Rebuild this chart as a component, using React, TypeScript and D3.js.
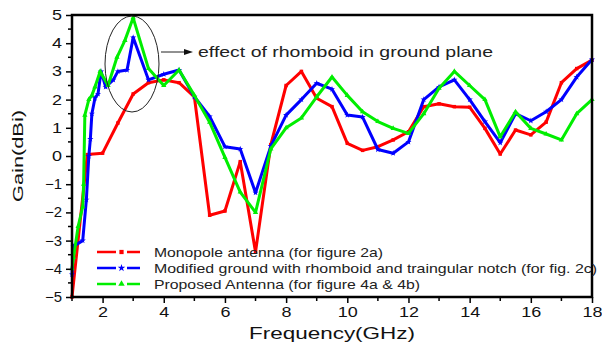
import React, { useEffect, useRef } from 'react';
import * as d3 from 'd3';

// Monopole antenna (for figure 2a)
const monoFreq = [1, 1.5, 2, 2.5, 3, 3.5, 4, 4.5, 5, 5.5, 6, 6.5, 7, 7.5, 8, 8.5, 9, 9.5, 10, 10.5, 11, 11.5, 12, 12.5, 13, 13.5, 14, 14.5, 15, 15.5, 16, 16.5, 17, 17.5, 18];
const monoGain = [-5, 0.05, 0.1, 1.17, 2.2, 2.6, 2.7, 2.6, 2.1, -2.1, -1.95, -0.2, -3.4, 0.4, 2.5, 3.0, 2.05, 1.75, 0.45, 0.2, 0.33, 0.57, 0.86, 1.75, 1.85, 1.75, 1.73, 0.98, 0.07, 0.92, 0.75, 1.2, 2.6, 3.1, 3.4];

// Modified ground with rhomboid and notch (for fig. 2c)
const modFreq = [1, 1.05, 1.35, 1.47, 1.55, 1.6, 1.65, 1.75, 1.85, 1.95, 2.1, 2.35, 2.5, 2.8, 3, 3.5, 4, 4.5, 5, 5.5, 6, 6.5, 7, 7.5, 8, 8.5, 9, 9.5, 10, 10.5, 11, 11.5, 12, 12.5, 13, 13.5, 14, 14.5, 15, 15.5, 16, 16.5, 17, 17.5, 18];
const modGain = [-4.2, -3.2, -3.0, -1.55, 0.0, 0.6, 1.5, 2.05, 2.2, 3.0, 2.45, 2.7, 3.0, 3.05, 4.2, 2.7, 2.9, 3.05, 2.1, 1.4, 0.33, 0.25, -1.3, 0.35, 1.45, 2.0, 2.58, 2.37, 1.45, 1.38, 0.23, 0.1, 0.5, 2.0, 2.45, 2.7, 2.0, 1.22, 0.47, 1.5, 1.25, 1.57, 2.0, 2.8, 3.42];

// Proposed Antenna (for figure 4a & 4b)
const propFreq = [1, 1.05, 1.2, 1.35, 1.38, 1.42, 1.55, 1.65, 1.75, 1.92, 2.18, 2.47, 2.73, 3, 3.5, 4, 4.5, 5, 5.5, 6, 6.5, 7, 7.5, 8, 8.5, 9, 9.5, 10, 10.5, 11, 11.5, 12, 12.5, 13, 13.5, 14, 14.5, 15, 15.5, 16, 16.5, 17, 17.5, 18];
const propGain = [-4.0, -3.6, -2.5, -1.8, -1.0, 1.45, 2.0, 2.15, 2.45, 3.0, 2.5, 3.5, 4.1, 4.9, 3.1, 2.5, 3.05, 2.15, 1.2, -0.05, -1.28, -2.0, 0.25, 1.0, 1.35, 2.1, 2.8, 2.15, 1.57, 1.22, 0.98, 0.8, 1.5, 2.4, 3.0, 2.5, 2.0, 0.68, 1.57, 0.98, 0.78, 0.57, 1.5, 2.0];

const xTicks = [2, 4, 6, 8, 10, 12, 14, 16, 18];
const yTicks = [-5, -4, -3, -2, -1, 0, 1, 2, 3, 4, 5];

const seriesNames = [
  'Monopole antenna (for figure 2a)',
  'Modified ground with rhomboid and traingular notch (for fig. 2c)',
  'Proposed Antenna (for figure 4a & 4b)'
];
const seriesColors = ['#ff0000', '#0000ff', '#00ee00'];
const annotation = 'effect of rhomboid in ground plane';

const App = () => {
  const svgRef = useRef(null);

  useEffect(() => {
    const width = 602;
    const height = 345;
    const left = 72, right = 592, top = 15, bottom = 297;
    const font = "'Liberation Sans', Arial, sans-serif";

    const svg = d3.select(svgRef.current);
    svg.selectAll('*').remove();
    svg.attr('width', width).attr('height', height);

    svg.append('rect').attr('width', width).attr('height', height).attr('fill', '#fff');

    const x = d3.scaleLinear().domain([1, 18]).range([left, right]);
    const y = d3.scaleLinear().domain([-5, 5]).range([bottom, top]);

    const series = [
      { f: monoFreq, g: monoGain, marker: 'square' },
      { f: modFreq, g: modGain, marker: 'star' },
      { f: propFreq, g: propGain, marker: 'triangle' }
    ];

    const line = d3
      .line<number>()
      .x((d) => d[0])
      .y((d) => d[1]);

    const symbolFor = (m) =>
      m === 'square' ? d3.symbolSquare : m === 'star' ? d3.symbolStar : d3.symbolTriangle;

    // the reference text is a wide sans; stretch Arial glyphs to match
    const stretch = (sel, w) => sel.attr('textLength', w).attr('lengthAdjust', 'spacingAndGlyphs');

    // Data lines
    series.forEach((s, i) => {
      const pts = s.f.map((f, j) => [x(f), y(s.g[j])]);
      svg
        .append('path')
        .attr('d', line(pts))
        .attr('fill', 'none')
        .attr('stroke', seriesColors[i])
        .attr('stroke-width', 3)
        .attr('stroke-linejoin', 'round');
      svg
        .append('g')
        .selectAll('path')
        .data(pts)
        .join('path')
        .attr('transform', (d) => `translate(${d[0]},${d[1]})`)
        .attr('d', d3.symbol().type(symbolFor(s.marker)).size(12))
        .attr('fill', seriesColors[i]);
    });

    // Frame
    svg
      .append('rect')
      .attr('x', left)
      .attr('y', top)
      .attr('width', right - left)
      .attr('height', bottom - top)
      .attr('fill', 'none')
      .attr('stroke', '#000')
      .attr('stroke-width', 2.5);

    // Y axis
    const yAxis = svg.append('g').attr('transform', `translate(${left},0)`);
    yAxis
      .call(d3.axisLeft(y).tickValues(yTicks).tickSize(6).tickPadding(4).tickFormat(d3.format('d')))
      .call((g) => g.select('.domain').remove());
    yAxis.selectAll('line').attr('stroke-width', 1.5);
    yAxis
      .selectAll('text')
      .attr('font-size', 14)
      .attr('font-family', font)
      .attr('fill', '#111')
      .attr('textLength', (d) => (d < 0 ? 17 : 10))
      .attr('lengthAdjust', 'spacingAndGlyphs');
    svg
      .append('g')
      .selectAll('line')
      .data(d3.range(-4.5, 5, 1))
      .join('line')
      .attr('x1', left - 4)
      .attr('x2', left)
      .attr('y1', (d) => y(d))
      .attr('y2', (d) => y(d))
      .attr('stroke', '#000')
      .attr('stroke-width', 1.5);

    // X axis
    const xAxis = svg.append('g').attr('transform', `translate(0,${bottom})`);
    xAxis
      .call(d3.axisBottom(x).tickValues(xTicks).tickSize(6).tickPadding(4).tickFormat(d3.format('d')))
      .call((g) => g.select('.domain').remove());
    xAxis.selectAll('line').attr('stroke-width', 1.5);
    xAxis
      .selectAll('text')
      .attr('font-size', 14)
      .attr('font-family', font)
      .attr('fill', '#111')
      .attr('textLength', (d) => String(d).length * 10)
      .attr('lengthAdjust', 'spacingAndGlyphs');
    svg
      .append('g')
      .selectAll('line')
      .data(d3.range(1, 18, 2))
      .join('line')
      .attr('x1', (d) => x(d))
      .attr('x2', (d) => x(d))
      .attr('y1', bottom)
      .attr('y2', bottom + 4)
      .attr('stroke', '#000')
      .attr('stroke-width', 1.5);

    // Axis titles
    svg
      .append('text')
      .attr('x', 332)
      .attr('y', 339)
      .attr('text-anchor', 'middle')
      .attr('font-size', 17)
      .attr('font-family', font)
      .attr('fill', '#111')
      .call(stretch, 166)
      .text('Frequency(GHz)');
    svg
      .append('text')
      .attr('transform', `translate(23,${(top + bottom) / 2}) rotate(-90)`)
      .attr('text-anchor', 'middle')
      .attr('font-size', 15)
      .attr('font-family', font)
      .attr('fill', '#111')
      .call(stretch, 92)
      .text('Gain(dBi)');

    // Legend
    const legendY = [252, 268, 284];
    const legendW = [229, 443, 266];
    series.forEach((s, i) => {
      const g = svg.append('g').attr('transform', `translate(0,${legendY[i]})`);
      g.append('line').attr('x1', 97).attr('x2', 116).attr('y1', 0).attr('y2', 0)
        .attr('stroke', seriesColors[i]).attr('stroke-width', 2.5);
      g.append('line').attr('x1', 127).attr('x2', 140).attr('y1', 0).attr('y2', 0)
        .attr('stroke', seriesColors[i]).attr('stroke-width', 2.5);
      g.append('path')
        .attr('transform', 'translate(121.5,0)')
        .attr('d', d3.symbol().type(symbolFor(s.marker)).size(18))
        .attr('fill', seriesColors[i]);
      g.append('text')
        .attr('x', 154)
        .attr('y', 5)
        .attr('font-size', 13)
        .attr('font-family', font)
        .attr('fill', '#222')
        .call(stretch, legendW[i])
        .text(seriesNames[i]);
    });

    // Annotation: ellipse around the peak, arrow and note
    svg
      .append('ellipse')
      .attr('cx', 132)
      .attr('cy', 64)
      .attr('rx', 27)
      .attr('ry', 48)
      .attr('fill', 'none')
      .attr('stroke', '#222')
      .attr('stroke-width', 1);
    svg
      .append('line')
      .attr('x1', 161)
      .attr('x2', 186)
      .attr('y1', 52)
      .attr('y2', 52)
      .attr('stroke', '#222')
      .attr('stroke-width', 1);
    svg
      .append('path')
      .attr('d', 'M184,49 L193,52 L184,55 Z')
      .attr('fill', '#111');
    svg
      .append('text')
      .attr('x', 198)
      .attr('y', 57)
      .attr('font-size', 14.5)
      .attr('font-family', font)
      .attr('fill', '#222')
      .call(stretch, 295)
      .text(annotation);
  }, []);

  return <svg ref={svgRef} style={{ position: 'absolute', left: 0, top: 0 }}></svg>;
};

export default App;
